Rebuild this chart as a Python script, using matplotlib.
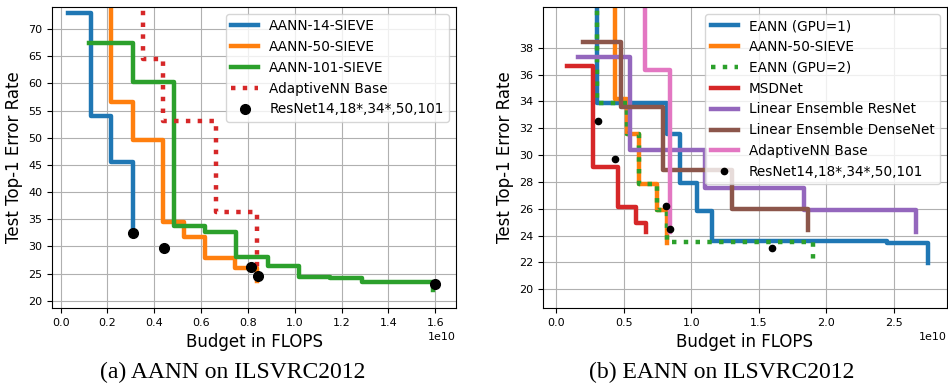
import matplotlib.pyplot as plt
import numpy as np

SCALE = 1e10  # budgets below are in units of 1e10 FLOPS

# ---- (a) AANN on ILSVRC2012 ----
aann14_x = [0.032, 0.128, 0.215, 0.308]
aann14_y = [72.9, 54.0, 45.5, 33.6]
aann50_x = [0.214, 0.214, 0.310, 0.438, 0.528, 0.617, 0.745, 0.838]
aann50_y = [80.0, 56.5, 49.6, 34.5, 31.7, 27.8, 26.0, 23.6]
aann101_x = [0.122, 0.308, 0.484, 0.617, 0.748, 0.887, 1.018, 1.150, 1.286, 1.592]
aann101_y = [67.5, 60.3, 33.7, 32.6, 28.0, 26.4, 24.4, 24.2, 23.4, 22.0]
adapt_a_x = [0.353, 0.353, 0.438, 0.662, 0.838]
adapt_a_y = [80.0, 64.4, 53.1, 36.4, 25.0]

# ResNet14, 18*, 34*, 50, 101
resnet_x = [0.31, 0.44, 0.815, 0.845, 1.60]
resnet_y = [32.5, 29.7, 26.2, 24.5, 23.1]

# ---- (b) EANN on ILSVRC2012 ----
eann1_x = [0.306, 0.306, 0.823, 0.920, 1.045, 1.152, 2.446, 2.749]
eann1_y = [45.0, 33.85, 31.55, 27.9, 25.85, 23.6, 23.45, 21.95]
aann50b_x = [0.436, 0.436, 0.523, 0.616, 0.749, 0.819]
aann50b_y = [45.0, 34.2, 31.55, 27.83, 25.9, 23.45]
eann2_x = [0.306, 0.306, 0.523, 0.616, 0.749, 0.819, 1.903]
eann2_y = [45.0, 33.85, 31.55, 27.83, 25.9, 23.5, 22.2]
msdnet_x = [0.084, 0.272, 0.461, 0.592, 0.666]
msdnet_y = [36.66, 29.14, 26.1, 24.97, 24.3]
lin_res_x = [0.165, 0.547, 1.102, 1.838, 2.665]
lin_res_y = [37.33, 30.4, 27.55, 25.9, 24.3]
lin_dense_x = [0.202, 0.478, 0.789, 1.300, 1.866]
lin_dense_y = [38.45, 33.56, 28.9, 25.97, 24.43]
adapt_b_x = [0.658, 0.658, 0.843]
adapt_b_y = [45.0, 36.34, 24.3]

W, H = 948, 388
fig = plt.figure(figsize=(W/100, H/100), dpi=100)
ax1 = fig.add_axes([52/W, 1-308/H, 404/W, 301/H])
ax2 = fig.add_axes([543.3/W, 1-308/H, 403.4/W, 301/H])

def fx(v):
    return np.array(v)*SCALE

lw = 3.2
ax1.plot(fx(aann14_x), aann14_y, drawstyle='steps-post', lw=lw, color='C0', label='AANN-14-SIEVE')
ax1.plot(fx(aann50_x), aann50_y, drawstyle='steps-post', lw=lw, color='C1', label='AANN-50-SIEVE')
ax1.plot(fx(aann101_x), aann101_y, drawstyle='steps-post', lw=lw, color='C2', label='AANN-101-SIEVE')
ax1.plot(fx(adapt_a_x), adapt_a_y, drawstyle='steps-post', lw=lw, color='C3', linestyle=':', label='AdaptiveNN Base')
ax1.plot(fx(resnet_x), resnet_y, 'o', color='k', markersize=7, label='ResNet14,18*,34*,50,101')

ax2.plot(fx(eann1_x), eann1_y, drawstyle='steps-post', lw=lw, color='C0', label='EANN (GPU=1)')
ax2.plot(fx(aann50b_x), aann50b_y, drawstyle='steps-post', lw=lw, color='C1', label='AANN-50-SIEVE')
ax2.plot(fx(eann2_x), eann2_y, drawstyle='steps-post', lw=lw, color='C2', linestyle=':', label='EANN (GPU=2)')
ax2.plot(fx(msdnet_x), msdnet_y, drawstyle='steps-post', lw=lw, color='C3', label='MSDNet')
ax2.plot(fx(lin_res_x), lin_res_y, drawstyle='steps-post', lw=lw, color='C4', label='Linear Ensemble ResNet')
ax2.plot(fx(lin_dense_x), lin_dense_y, drawstyle='steps-post', lw=lw, color='C5', label='Linear Ensemble DenseNet')
ax2.plot(fx(adapt_b_x), adapt_b_y, drawstyle='steps-post', lw=lw, color='C6', label='AdaptiveNN Base')
ax2.plot(fx(resnet_x), resnet_y, 'o', color='k', markersize=4.5, label='ResNet14,18*,34*,50,101')

ax1.set_xlim(-0.037*SCALE, 1.689*SCALE)
ax1.set_ylim(18.66, 74.05)
ax1.set_yticks(np.arange(20, 75, 5))
ax2.set_xlim(-0.094*SCALE, 2.89*SCALE)
ax2.set_ylim(18.6, 41.03)
ax2.set_yticks(np.arange(20, 40, 2))

for ax in [ax1, ax2]:
    ax.grid(True)
    ax.tick_params(labelsize=8)
    ax.xaxis.get_offset_text().set_fontsize(8)
    ax.set_xlabel('Budget in FLOPS', fontsize=12)
    ax.set_ylabel('Test Top-1 Error Rate', fontsize=12)
    ax.legend(loc='upper right', fontsize=9.8)

fig.text(233/W, 1-372/H, '(a) AANN on ILSVRC2012', ha='center', va='center',
         family='Liberation Serif', fontsize=17)
fig.text(722/W, 1-372/H, '(b) EANN on ILSVRC2012', ha='center', va='center',
         family='Liberation Serif', fontsize=17)

fig.savefig('out.png', dpi=100)
